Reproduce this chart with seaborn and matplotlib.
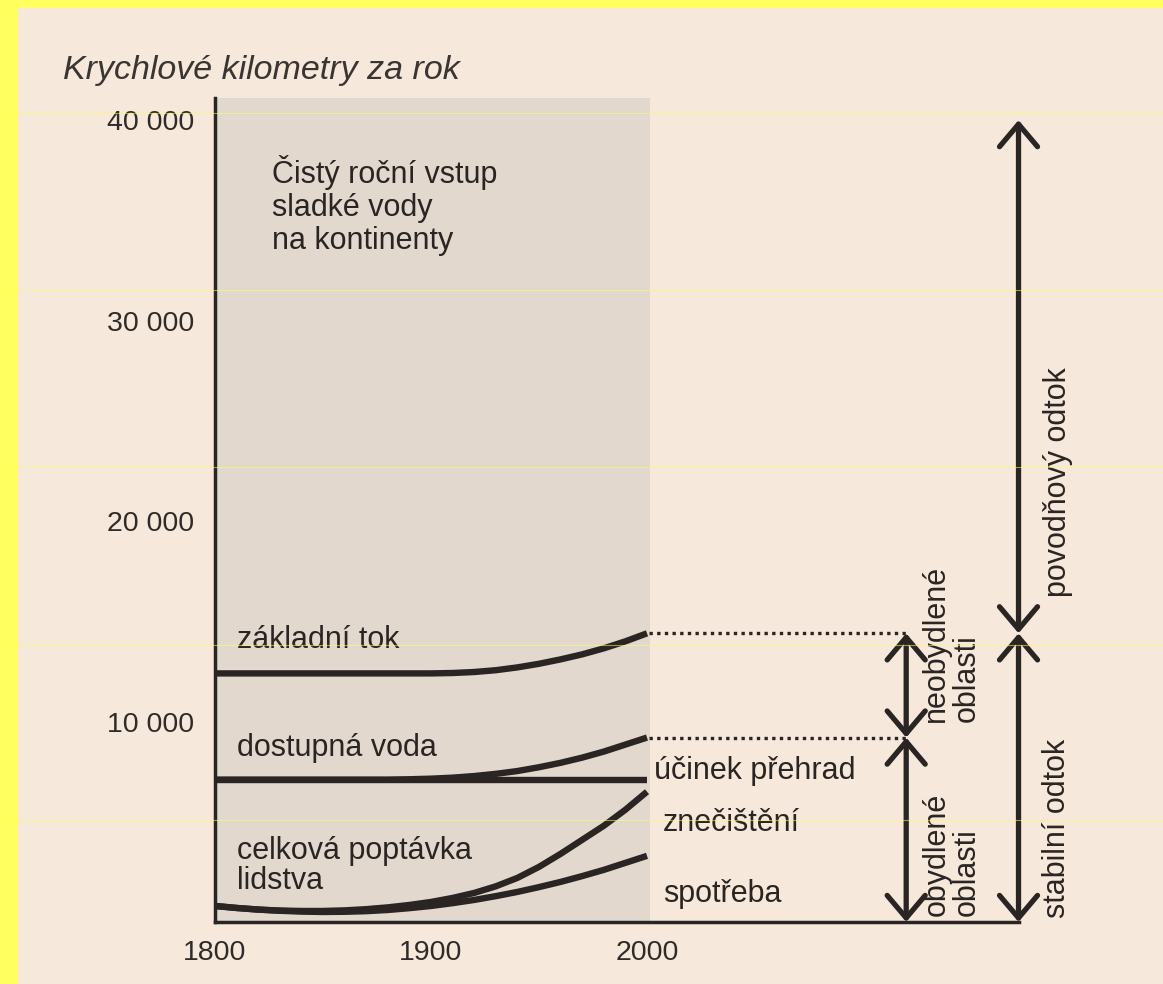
import matplotlib
matplotlib.use("Agg")
import matplotlib.pyplot as plt
from matplotlib.lines import Line2D
from matplotlib.patches import Rectangle
import seaborn as sns
import pandas as pd

# values (km3 per year)
years = [1800, 1810, 1820, 1830, 1840, 1850, 1860, 1870, 1880, 1890, 1900,
         1910, 1920, 1930, 1940, 1950, 1960, 1970, 1980, 1990, 2000]
zakladni_tok = [12400, 12400, 12400, 12400, 12400, 12400, 12400, 12400, 12400, 12400, 12400,
                12420, 12470, 12560, 12700, 12880, 13100, 13350, 13650, 14000, 14400]
dostupna_voda = [7100, 7100, 7100, 7100, 7100, 7100, 7100, 7100, 7100, 7120, 7150,
                 7200, 7280, 7390, 7530, 7720, 7940, 8200, 8500, 8850, 9200]
ucinek_prehrad = [7100, 7100, 7100, 7100, 7100, 7100, 7100, 7100, 7100, 7100, 7100,
                  7100, 7100, 7100, 7100, 7100, 7100, 7100, 7100, 7100, 7100]
znecisteni = [800, 700, 620, 570, 550, 550, 580, 640, 730, 850, 1000,
              1200, 1450, 1780, 2200, 2750, 3400, 4100, 4800, 5600, 6500]
spotreba = [800, 700, 620, 560, 520, 500, 510, 540, 600, 690, 800,
            940, 1100, 1290, 1500, 1740, 2000, 2290, 2600, 2950, 3300]

y_ticks = [10000, 20000, 30000, 40000]
y_labels = ["10 000", "20 000", "30 000", "40 000"]
x_ticks = [1800, 1900, 2000]

shade_top = 41100      # top of the grey block
total_runoff = 40000   # top of povodnovy odtok arrow
stable_runoff = 14400  # zakladni tok in 2000
inhabited = 9200       # dostupna voda in 2000

ink = "#2a2523"
paper = "#f6e8da"
shade = "#e2d8ce"
yellow = "#ffff5e"

sns.set_theme(style="white")
plt.rcParams["font.family"] = ["Liberation Sans", "DejaVu Sans"]
plt.rcParams["hatch.linewidth"] = 0.7
plt.rcParams["hatch.color"] = "#cdc1b5"

fig = plt.figure(figsize=(11.63, 9.84), dpi=100, facecolor=yellow)
fig.add_artist(Rectangle((18 / 1163, 0), 1, 1 - 8 / 984, transform=fig.transFigure,
                         facecolor=paper, edgecolor="none", zorder=-10))

ax = fig.add_axes([215 / 1163, 62 / 984, 842.4 / 1163, 842 / 984])
ax.set_facecolor("none")
ax.set_xlim(1800, 2190)
ax.set_ylim(0, 42000)

# grey block: freshwater input to the continents
ax.add_patch(Rectangle((1800, 0), 201.5, shade_top, facecolor=shade, edgecolor="none",
                       hatch="....", zorder=0))

for vals in [zakladni_tok, dostupna_voda, ucinek_prehrad, znecisteni, spotreba]:
    sns.lineplot(x=years, y=vals, ax=ax, color=ink, lw=4.6, legend=False,
                 solid_capstyle="butt", zorder=3)

# dotted connectors
for v in [stable_runoff, inhabited]:
    ax.plot([2001, 2120], [v, v], color=ink, lw=2.4, ls=(0, (1, 1.3)), zorder=3)

# double arrows
def darrow(x, y0, y1):
    ax.annotate("", xy=(x, y1), xytext=(x, y0),
                arrowprops=dict(arrowstyle="<->,head_length=0.45,head_width=0.38",
                                lw=3.8, color=ink, shrinkA=0, shrinkB=0,
                                mutation_scale=36), zorder=4)

darrow(2120, 0, inhabited)
darrow(2120, inhabited, stable_runoff)
darrow(2172, 0, stable_runoff)
darrow(2172, stable_runoff, total_runoff)

# spines
for s in ["top", "right"]:
    ax.spines[s].set_visible(False)
ax.spines["left"].set_bounds(0, shade_top)
ax.spines["bottom"].set_bounds(1800, 2172)
for s in ["left", "bottom"]:
    ax.spines[s].set_color(ink)
    ax.spines[s].set_linewidth(2.5)
    ax.spines[s].set_zorder(5)

ax.set_yticks(y_ticks)
ax.set_yticklabels(y_labels)
ax.set_xticks(x_ticks)
ax.set_xticklabels([str(t) for t in x_ticks])
ax.tick_params(axis="both", length=0, labelsize=20.5, colors="#2f2b29")
ax.tick_params(axis="y", pad=15)
ax.tick_params(axis="x", pad=13)

txt = dict(color=ink, fontsize=22)
ax.text(1826.4, 38250, "Čistý roční vstup\nsladké vody\nna kontinenty", va="top",
        linespacing=1.12, **txt)
ax.text(1810, 14050, "základní tok", va="center", **txt)
ax.text(1810, 8700, "dostupná voda", va="center", **txt)
ax.text(1810, 2800, "celková poptávka\nlidstva", va="center", linespacing=1.0, **txt)
ax.text(2003.2, 7550, "účinek přehrad", va="center", **txt)
ax.text(2007.3, 4950, "znečištění", va="center", **txt)
ax.text(2007.3, 1400, "spotřeba", va="center", **txt)

rot = dict(rotation=90, ha="left", va="bottom", multialignment="left", linespacing=1.0)
ax.text(2127, 10000, "neobydlené\noblasti", **rot, **txt)
ax.text(2127, 300, "obydlené\noblasti", **rot, **txt)
ax.text(2183, 200, "stabilní odtok", **rot, **txt)
ax.text(2183.5, 16200, "povodňový odtok", **rot, **txt)

fig.text(63 / 1163, 1 - 71 / 984, "Krychlové kilometry za rok", style="italic",
         fontsize=24.5, color="#3a3533", va="center")

# faint scan seams
for yp in [113, 290, 467, 645, 820]:
    fig.add_artist(Line2D([18 / 1163, 1], [1 - yp / 984] * 2, transform=fig.transFigure,
                          color=yellow, lw=0.8, alpha=0.55, zorder=10))

fig.savefig("out.png", dpi=100, facecolor=yellow)
